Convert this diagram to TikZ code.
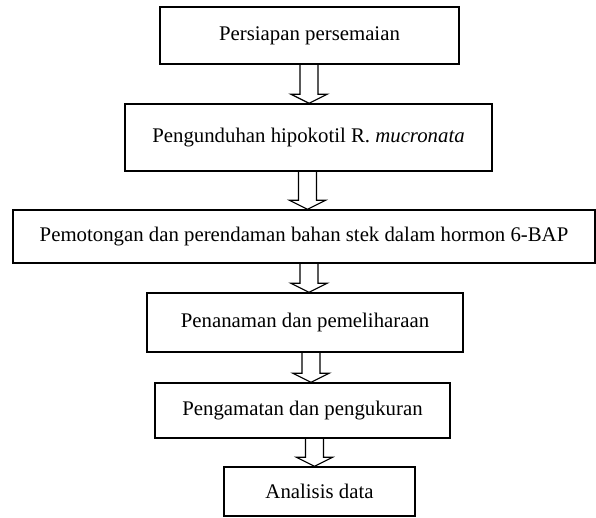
\documentclass[tikz,border=0pt]{standalone}
\usepackage{fontspec}
\setmainfont{Liberation Serif}
\usetikzlibrary{calc}

\newcommand{\hollowarrow}[3]{%
    \draw[arrow line] let \p1=(#1.south), \p2=(#2.north) in
    (#3pt-9pt,\y1) -- (#3pt-9pt,\y2+9pt) -- (#3pt-18pt,\y2+9pt) -- (#3pt,\y2)
    -- (#3pt+18pt,\y2+9pt) -- (#3pt+9pt,\y2+9pt) -- (#3pt+9pt,\y1);}

\begin{document}
\begin{tikzpicture}[x=1pt,y=-1pt,
        stepbox/.style={draw,line width=1.4pt,inner sep=0pt,
            font=\fontsize{20.8}{24}\selectfont},
        arrow line/.style={line width=1.2pt,line join=miter}]

    \useasboundingbox (0,0) rectangle (596,518);

    \node[stepbox, minimum width=299pt, minimum height=57pt] (persiapan) at (309.5,35.5) {Persiapan persemaian};
    \node[stepbox, minimum width=367pt, minimum height=67pt] (pengunduhan) at (308.5,137.5) {Pengunduhan hipokotil R. \textit{mucronata}};
    \node[stepbox, minimum width=582pt, minimum height=53pt] (pemotongan) at (304,236.5) {Pemotongan dan perendaman bahan stek dalam hormon 6-BAP};
    \node[stepbox, minimum width=316pt, minimum height=59pt] (penanaman) at (305,322.5) {Penanaman dan pemeliharaan};
    \node[stepbox, minimum width=295pt, minimum height=55pt] (pengamatan) at (302.5,410.5) {Pengamatan dan pengukuran};
    \node[stepbox, minimum width=191pt, minimum height=49pt] (analisis) at (319.5,491.5) {Analisis data};

    \hollowarrow{persiapan}{pengunduhan}{309}
    \hollowarrow{pengunduhan}{pemotongan}{307.5}
    \hollowarrow{pemotongan}{penanaman}{309}
    \hollowarrow{penanaman}{pengamatan}{311}
    \hollowarrow{pengamatan}{analisis}{314.5}

\end{tikzpicture}
\end{document}
